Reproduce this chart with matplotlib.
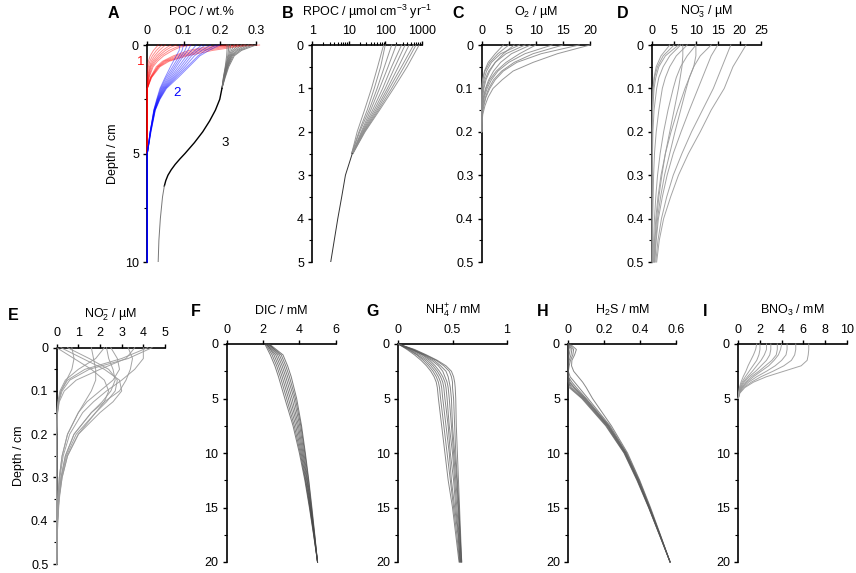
import matplotlib
matplotlib.use('Agg')
import matplotlib.pyplot as plt
from matplotlib.ticker import MultipleLocator, FuncFormatter, LogLocator, NullFormatter

plt.rcParams['font.family'] = ['Liberation Sans', 'DejaVu Sans']
plt.rcParams['mathtext.fontset'] = 'custom'
plt.rcParams['mathtext.rm'] = 'Liberation Sans'
plt.rcParams['mathtext.it'] = 'Liberation Sans:italic'
plt.rcParams['mathtext.default'] = 'regular'

# ---- A: POC (wt.%) ----
poc1_depth = [0, 0.1, 0.25, 0.5, 0.75, 1.0, 1.5, 2.0, 5.0]
poc1 = [
    [0.31, 0.24, 0.18, 0.11, 0.06, 0.035, 0.012, 0.0, 0.0],
    [0.29, 0.22, 0.16, 0.10, 0.055, 0.032, 0.011, 0.0, 0.0],
    [0.27, 0.20, 0.145, 0.09, 0.05, 0.03, 0.01, 0.0, 0.0],
    [0.25, 0.18, 0.13, 0.08, 0.046, 0.028, 0.009, 0.0, 0.0],
    [0.22, 0.16, 0.115, 0.072, 0.042, 0.025, 0.008, 0.0, 0.0],
    [0.12, 0.09, 0.07, 0.045, 0.028, 0.016, 0.005, 0.0, 0.0],
    [0.10, 0.08, 0.06, 0.038, 0.023, 0.013, 0.004, 0.0, 0.0],
    [0.08, 0.065, 0.05, 0.032, 0.019, 0.01, 0.003, 0.0, 0.0],
    [0.065, 0.055, 0.042, 0.026, 0.015, 0.008, 0.002, 0.0, 0.0],
    [0.05, 0.043, 0.033, 0.02, 0.011, 0.006, 0.001, 0.0, 0.0],
    [0.04, 0.034, 0.025, 0.014, 0.007, 0.003, 0.0, 0.0, 0.0],
    [0.03, 0.025, 0.017, 0.008, 0.003, 0.001, 0.0, 0.0, 0.0],
]
poc2_depth = [0, 0.25, 0.5, 1.0, 1.5, 2.0, 2.5, 3.0, 4.0, 5.0, 10.0]
poc2 = [
    [0.20, 0.17, 0.145, 0.115, 0.085, 0.053, 0.035, 0.022, 0.01, 0.0, 0.0],
    [0.19, 0.16, 0.14, 0.11, 0.08, 0.051, 0.034, 0.022, 0.01, 0.0, 0.0],
    [0.175, 0.15, 0.13, 0.104, 0.076, 0.049, 0.033, 0.021, 0.009, 0.0, 0.0],
    [0.16, 0.14, 0.122, 0.098, 0.072, 0.047, 0.032, 0.021, 0.009, 0.0, 0.0],
    [0.15, 0.132, 0.115, 0.092, 0.068, 0.045, 0.031, 0.02, 0.009, 0.0, 0.0],
    [0.135, 0.122, 0.108, 0.086, 0.064, 0.043, 0.03, 0.02, 0.008, 0.0, 0.0],
    [0.12, 0.112, 0.10, 0.08, 0.06, 0.041, 0.029, 0.019, 0.008, 0.0, 0.0],
    [0.11, 0.104, 0.094, 0.075, 0.056, 0.039, 0.028, 0.019, 0.008, 0.0, 0.0],
    [0.10, 0.096, 0.088, 0.07, 0.052, 0.037, 0.027, 0.018, 0.008, 0.0, 0.0],
    [0.09, 0.088, 0.08, 0.064, 0.049, 0.035, 0.026, 0.018, 0.008, 0.0, 0.0],
]
poc3_depth = [0, 0.25, 0.5, 1.0, 1.5, 2.0]
poc3 = [
    [0.30, 0.26, 0.24, 0.225, 0.215, 0.206],
    [0.29, 0.255, 0.237, 0.223, 0.214, 0.206],
    [0.28, 0.25, 0.234, 0.222, 0.213, 0.206],
    [0.27, 0.245, 0.232, 0.221, 0.213, 0.206],
    [0.26, 0.24, 0.23, 0.22, 0.212, 0.206],
    [0.25, 0.236, 0.228, 0.219, 0.212, 0.206],
    [0.24, 0.232, 0.226, 0.218, 0.211, 0.206],
    [0.23, 0.228, 0.224, 0.217, 0.211, 0.206],
    [0.225, 0.224, 0.222, 0.216, 0.21, 0.206],
    [0.22, 0.22, 0.219, 0.215, 0.21, 0.206],
]
poc3_mid_depth = [2.0, 2.5, 3.0, 3.5, 4.0, 4.5, 5.0, 5.25, 5.5, 5.75, 6.0, 6.25, 6.5]
poc3_mid = [0.206, 0.2, 0.188, 0.172, 0.153, 0.13, 0.104, 0.09, 0.077, 0.066, 0.057, 0.051, 0.047]
poc3_tail_depth = [6.5, 7.0, 8.0, 9.0, 10.0]
poc3_tail = [0.047, 0.042, 0.036, 0.032, 0.03]

# ---- B: RPOC (umol cm-3 yr-1), log scale ----
rpoc_depth = [0, 0.5, 1.0, 1.5, 2.0, 2.5]
rpoc = [
    [90, 62, 42, 27, 17, 12],
    [100, 75, 50, 32, 19, 12],
    [150, 95, 60, 36, 20, 12],
    [200, 120, 70, 40, 22, 12.5],
    [280, 150, 85, 45, 23, 12.5],
    [350, 185, 100, 50, 24, 12.5],
    [450, 230, 115, 55, 25, 12.5],
    [600, 280, 130, 60, 26, 13],
    [700, 330, 150, 65, 27, 13],
    [850, 400, 170, 70, 28, 13],
]
rpoc_tail_depth = [2.5, 3.0, 3.5, 4.0, 4.5, 5.0]
rpoc_tail = [12.5, 8.1, 6.4, 5.0, 4.0, 3.2]

# ---- C: O2 (uM) ----
o2_depth = [0, 0.02, 0.04, 0.06, 0.08, 0.1, 0.12, 0.14, 0.16, 0.18, 0.2]
o2 = [
    [20, 14, 9.5, 5.8, 3.8, 2.1, 1.2, 0.6, 0.2, 0.05, 0],
    [18, 11, 6.5, 4.0, 2.5, 1.5, 0.8, 0.4, 0.1, 0, 0],
    [15, 9.5, 6.0, 3.7, 2.2, 1.3, 0.7, 0.3, 0.05, 0, 0],
    [13, 8.0, 5.0, 3.0, 1.8, 1.0, 0.5, 0.2, 0, 0, 0],
    [10, 7.0, 4.5, 2.7, 1.5, 0.8, 0.4, 0.1, 0, 0, 0],
    [9, 5.5, 3.5, 2.2, 1.3, 0.7, 0.3, 0.1, 0, 0, 0],
    [8, 4.5, 2.5, 1.3, 0.6, 0.3, 0.1, 0, 0, 0, 0],
    [7, 3.5, 1.8, 0.9, 0.4, 0.15, 0.05, 0, 0, 0, 0],
    [6, 4.0, 2.5, 1.5, 0.8, 0.4, 0.2, 0.05, 0, 0, 0],
    [5, 3.0, 1.5, 0.6, 0.2, 0.05, 0, 0, 0, 0, 0],
    [4, 2.5, 1.2, 0.5, 0.15, 0, 0, 0, 0, 0, 0],
]

# ---- D: NO3- (uM) ----
no3_depth = [0, 0.025, 0.05, 0.075, 0.1, 0.15, 0.2, 0.25, 0.3, 0.35, 0.4, 0.45, 0.5]
no3 = [
    [21.5, 20, 18.5, 17.5, 16.5, 13.5, 11, 8.3, 6.0, 4.2, 2.6, 1.6, 1.0],
    [18, 17, 16, 15, 14, 11.5, 9.0, 6.8, 4.8, 3.3, 2.1, 1.3, 0.8],
    [15, 13.5, 12.5, 11.5, 10.5, 8.5, 6.6, 4.8, 3.4, 2.3, 1.4, 0.9, 0.6],
    [13.5, 11, 9.5, 8.5, 7.8, 6.5, 5.2, 4.0, 2.8, 1.9, 1.2, 0.8, 0.5],
    [10, 10, 9.5, 8.5, 7.5, 5.8, 4.3, 3.0, 2.0, 1.3, 0.8, 0.5, 0.3],
    [10, 8, 6.5, 5.5, 4.8, 3.6, 2.6, 1.8, 1.2, 0.8, 0.5, 0.3, 0.2],
    [8, 5.5, 4, 3, 2.3, 1.5, 0.9, 0.5, 0.3, 0.2, 0.1, 0.05, 0],
    [7, 7, 6.8, 6.4, 6.0, 5.0, 4.0, 3.0, 2.2, 1.5, 1.0, 0.6, 0.4],
    [6.5, 4, 2.5, 1.5, 1.0, 0.4, 0.15, 0.05, 0, 0, 0, 0, 0],
    [6, 3, 1.5, 0.8, 0.4, 0.1, 0, 0, 0, 0, 0, 0, 0],
    [5, 2.5, 1.2, 0.5, 0.2, 0.05, 0, 0, 0, 0, 0, 0, 0],
    [4, 2, 0.9, 0.4, 0.15, 0, 0, 0, 0, 0, 0, 0, 0],
]

# ---- E: NO2- (uM) ----
no2_depth = [0, 0.025, 0.05, 0.075, 0.1, 0.125, 0.15, 0.2, 0.25, 0.3, 0.35, 0.4, 0.45, 0.5]
no2 = [
    [0.2, 1.2, 2.2, 2.9, 3.0, 2.6, 2.0, 1.0, 0.5, 0.25, 0.12, 0.05, 0.02, 0],
    [0.5, 1.5, 2.4, 2.8, 2.7, 2.3, 1.8, 0.9, 0.45, 0.22, 0.1, 0.05, 0.02, 0],
    [2.3, 2.4, 2.6, 2.7, 2.5, 2.1, 1.6, 0.8, 0.4, 0.2, 0.1, 0.04, 0.01, 0],
    [2.5, 2.8, 2.9, 2.6, 2.0, 1.4, 1.0, 0.5, 0.25, 0.12, 0.05, 0.02, 0, 0],
    [4.4, 3.3, 1.5, 0.6, 0.25, 0.1, 0.04, 0, 0, 0, 0, 0, 0, 0],
    [4.2, 3.0, 1.3, 0.5, 0.2, 0.08, 0.03, 0, 0, 0, 0, 0, 0, 0],
    [4.0, 4.0, 3.6, 3.0, 2.3, 1.7, 1.2, 0.6, 0.3, 0.15, 0.07, 0.03, 0.01, 0],
    [3.6, 3.2, 2.0, 0.9, 0.35, 0.12, 0.04, 0, 0, 0, 0, 0, 0, 0],
    [0.7, 0.8, 0.7, 0.45, 0.2, 0.08, 0.03, 0, 0, 0, 0, 0, 0, 0],
    [1.6, 1.7, 1.8, 1.8, 1.6, 1.3, 1.0, 0.5, 0.25, 0.12, 0.05, 0.02, 0, 0],
    [0.0, 0.8, 1.6, 2.2, 2.4, 2.2, 1.8, 1.0, 0.5, 0.25, 0.1, 0.04, 0.01, 0],
    [3.3, 3.5, 3.4, 3.2, 2.9, 2.2, 1.6, 0.8, 0.4, 0.2, 0.09, 0.04, 0.01, 0],
    [2.2, 1.8, 1.0, 0.4, 0.15, 0.05, 0, 0, 0, 0, 0, 0, 0, 0],
]

# ---- F: DIC (mM) ----
dic_depth = [0, 1, 2, 3, 5, 7.5, 10, 12.5, 15, 17.5, 20]
dic = [
    [2.10, 2.40, 2.65, 2.85, 3.20, 3.65, 4.00, 4.30, 4.55, 4.78, 5.0],
    [2.15, 2.50, 2.75, 2.95, 3.30, 3.72, 4.05, 4.33, 4.57, 4.79, 5.0],
    [2.20, 2.60, 2.85, 3.05, 3.40, 3.80, 4.10, 4.36, 4.59, 4.80, 5.0],
    [2.20, 2.70, 2.95, 3.15, 3.50, 3.88, 4.15, 4.40, 4.61, 4.81, 5.0],
    [2.25, 2.80, 3.05, 3.25, 3.60, 3.95, 4.20, 4.43, 4.63, 4.82, 5.0],
    [2.30, 2.90, 3.15, 3.35, 3.70, 4.02, 4.25, 4.46, 4.65, 4.83, 5.0],
    [2.30, 3.00, 3.25, 3.45, 3.78, 4.08, 4.30, 4.50, 4.67, 4.84, 5.0],
    [2.35, 3.10, 3.35, 3.55, 3.85, 4.12, 4.33, 4.52, 4.69, 4.85, 5.0],
]

# ---- G: NH4+ (mM) ----
nh4_depth = [0, 0.5, 1, 1.5, 2, 2.5, 3, 3.5, 4, 5, 7.5, 10, 12.5, 15, 17.5, 20]
nh4 = [
    [0, 0.08, 0.15, 0.21, 0.26, 0.30, 0.33, 0.35, 0.36, 0.37, 0.40, 0.43, 0.46, 0.50, 0.53, 0.56],
    [0, 0.09, 0.17, 0.23, 0.28, 0.32, 0.35, 0.37, 0.38, 0.39, 0.42, 0.45, 0.48, 0.51, 0.54, 0.565],
    [0, 0.10, 0.18, 0.25, 0.30, 0.34, 0.37, 0.39, 0.40, 0.41, 0.44, 0.47, 0.49, 0.52, 0.55, 0.57],
    [0, 0.11, 0.20, 0.27, 0.32, 0.36, 0.39, 0.41, 0.42, 0.43, 0.46, 0.48, 0.51, 0.53, 0.555, 0.57],
    [0, 0.12, 0.22, 0.29, 0.34, 0.38, 0.41, 0.43, 0.44, 0.45, 0.47, 0.50, 0.52, 0.54, 0.56, 0.575],
    [0, 0.13, 0.23, 0.31, 0.37, 0.41, 0.43, 0.45, 0.46, 0.47, 0.49, 0.51, 0.53, 0.55, 0.565, 0.58],
    [0, 0.13, 0.24, 0.33, 0.39, 0.44, 0.46, 0.47, 0.48, 0.49, 0.50, 0.52, 0.54, 0.555, 0.57, 0.58],
    [0, 0.14, 0.25, 0.35, 0.42, 0.47, 0.49, 0.50, 0.50, 0.51, 0.52, 0.53, 0.545, 0.56, 0.57, 0.585],
    [0, 0.15, 0.26, 0.36, 0.44, 0.49, 0.51, 0.52, 0.525, 0.53, 0.535, 0.545, 0.555, 0.565, 0.575, 0.585],
]

# ---- H: H2S (mM) ----
h2s_depth = [0, 0.5, 1, 1.5, 2, 2.5, 3, 3.5, 4, 5, 7.5, 10, 12.5, 15, 17.5, 20]
h2s = [
    [0.01, 0.045, 0.035, 0.02, 0.018, 0.03, 0.055, 0.08, 0.10, 0.135, 0.24, 0.33, 0.398, 0.458, 0.513, 0.567],
    [0.005, 0.03, 0.025, 0.012, 0.005, 0.0, 0.01, 0.035, 0.06, 0.11, 0.232, 0.325, 0.395, 0.455, 0.512, 0.567],
    [0, 0.02, 0.015, 0.005, 0, 0, 0, 0.02, 0.045, 0.1, 0.227, 0.322, 0.392, 0.453, 0.511, 0.567],
    [0, 0.01, 0.005, 0, 0, 0, 0, 0.01, 0.035, 0.095, 0.223, 0.32, 0.39, 0.451, 0.51, 0.567],
    [0, 0, 0, 0, 0, 0, 0, 0.005, 0.03, 0.09, 0.22, 0.317, 0.388, 0.45, 0.509, 0.567],
    [0, 0, 0, 0, 0, 0, 0, 0, 0.02, 0.085, 0.216, 0.315, 0.386, 0.449, 0.508, 0.567],
    [0, 0, 0, 0, 0, 0, 0, 0, 0.012, 0.08, 0.212, 0.312, 0.384, 0.448, 0.508, 0.567],
    [0, 0, 0, 0, 0, 0, 0, 0, 0.005, 0.075, 0.208, 0.31, 0.382, 0.447, 0.507, 0.567],
]

# ---- I: BNO3 (mM) ----
bno3_depth = [0, 0.5, 1, 1.5, 2, 2.5, 3, 3.5, 4, 4.5, 5]
bno3 = [
    [6.5, 6.5, 6.45, 6.35, 5.8, 4.2, 2.6, 1.4, 0.6, 0.15, 0],
    [5.3, 5.3, 5.2, 4.9, 4.2, 3.2, 2.1, 1.2, 0.5, 0.12, 0],
    [4.5, 4.5, 4.4, 4.0, 3.4, 2.6, 1.7, 0.95, 0.4, 0.1, 0],
    [4.0, 3.9, 3.7, 3.3, 2.8, 2.1, 1.4, 0.8, 0.35, 0.08, 0],
    [3.6, 3.6, 3.5, 3.1, 2.5, 1.9, 1.2, 0.7, 0.3, 0.07, 0],
    [3.0, 3.0, 2.9, 2.6, 2.1, 1.6, 1.0, 0.55, 0.25, 0.05, 0],
    [2.6, 2.6, 2.4, 2.1, 1.7, 1.3, 0.85, 0.45, 0.2, 0.04, 0],
    [2.0, 2.0, 1.9, 1.7, 1.35, 1.0, 0.65, 0.35, 0.15, 0.03, 0],
    [1.7, 1.6, 1.4, 1.15, 0.9, 0.7, 0.45, 0.25, 0.1, 0.02, 0],
]

W, H = 856, 573
FS = 9
LW = 0.7


def add_axes(fig, x0, x1, y0, y1):
    # pixel box -> figure fraction
    return fig.add_axes([x0 / W, 1 - y1 / H, (x1 - x0) / W, (y1 - y0) / H])


def style(ax, xmax, ymax, xmajor, ymajor, yminor, xlabel, letter, letter_dx, depth_label=False, log=False):
    ax.set_ylim(ymax, 0)
    ax.xaxis.tick_top()
    ax.spines['right'].set_visible(False)
    ax.spines['bottom'].set_visible(False)
    for s in ['top', 'left']:
        ax.spines[s].set_linewidth(1.2)
    if log:
        ax.set_xscale('log')
        ax.set_xlim(1, xmax)
        ax.set_xticks([1, 10, 100, 1000])
        ax.set_xticklabels(['1', '10', '100', '1000'])
        ax.xaxis.set_minor_locator(LogLocator(base=10, subs=range(2, 10)))
        ax.xaxis.set_minor_formatter(NullFormatter())
    else:
        ax.set_xlim(0, xmax)
        ax.xaxis.set_major_locator(MultipleLocator(xmajor))
    ax.yaxis.set_major_locator(MultipleLocator(ymajor))
    ax.yaxis.set_minor_locator(MultipleLocator(yminor))
    fmt = FuncFormatter(lambda v, p: '%g' % v)
    if not log:
        ax.xaxis.set_major_formatter(fmt)
    ax.yaxis.set_major_formatter(fmt)
    ax.tick_params(which='major', direction='out', length=3, width=1, labelsize=FS, pad=3)
    ax.tick_params(which='minor', direction='out', length=2, width=0.8)
    ax.tick_params(axis='x', which='both', top=True, bottom=False)
    ax.text(0.5, 1 + 33 / 217, xlabel, transform=ax.transAxes, ha='center', va='center', fontsize=FS)
    ax.text(letter_dx / 109, 1 + 32 / 217, letter, transform=ax.transAxes, ha='center', va='center',
            fontsize=11.5, fontweight='bold')
    if depth_label:
        ax.set_ylabel('Depth / cm', fontsize=FS, labelpad=4)


def draw(ax, depth, series, color, alpha=1.0, lw=LW):
    for vals in series:
        ax.plot(vals, depth, color=color, lw=lw, alpha=alpha, clip_on=False, zorder=3)


fig = plt.figure(figsize=(W / 100, H / 100), dpi=100)

# top row
axA = add_axes(fig, 147.3, 256, 45, 262)
draw(axA, poc1_depth, poc1, 'red', 0.45)
draw(axA, poc2_depth, poc2, 'blue', 0.45)
draw(axA, poc3_depth, poc3, '#707070', 0.8)
axA.plot(poc3_mid, poc3_mid_depth, color='black', lw=1.0, zorder=3)
axA.plot(poc3_tail, poc3_tail_depth, color='#777777', lw=LW, zorder=3)
axA.text(-0.017, 0.78, '1', color='red', fontsize=9.5, ha='center', va='center')
axA.text(0.083, 2.2, '2', color='blue', fontsize=9.5, ha='center', va='center')
axA.text(0.214, 4.5, '3', color='black', fontsize=9.5, ha='center', va='center')
style(axA, 0.3, 10, 0.1, 5, 2.5, 'POC / wt.%', 'A', -34, depth_label=True)

axB = add_axes(fig, 312.3, 421.7, 45, 262)
draw(axB, rpoc_depth, rpoc, '#8c8c8c', 0.9)
axB.plot(rpoc_tail, rpoc_tail_depth, color='#333333', lw=LW, zorder=3)
style(axB, 1000, 5, None, 1, 0.5, r'RPOC / µmol cm$^{-3}$ yr$^{-1}$', 'B', -25, log=True)

axC = add_axes(fig, 481.7, 590, 45, 262)
draw(axC, o2_depth, o2, '#8c8c8c', 0.9)
style(axC, 20, 0.5, 5, 0.1, 0.05, r'O$_2$ / µM', 'C', -24)

axD = add_axes(fig, 652.3, 761.3, 45, 262)
draw(axD, no3_depth, no3, '#9a9a9a', 0.9)
style(axD, 25, 0.5, 5, 0.1, 0.05, r'NO$_3^{-}$ / µM', 'D', -30)

# bottom row
axE = add_axes(fig, 56.7, 165, 347.7, 564)
draw(axE, no2_depth, no2, '#9a9a9a', 0.9)
style(axE, 5, 0.5, 1, 0.1, 0.05, r'NO$_2^{-}$ / µM', 'E', -44, depth_label=True)

axF = add_axes(fig, 226.7, 335.7, 344, 562)
draw(axF, dic_depth, dic, '#444444', 0.7)
style(axF, 6, 20, 2, 5, 2.5, 'DIC / mM', 'F', -31)

axG = add_axes(fig, 398.3, 506.7, 344, 562)
draw(axG, nh4_depth, nh4, '#555555', 0.7)
style(axG, 1, 20, 0.5, 5, 2.5, r'NH$_4^{+}$ / mM', 'G', -26)

axH = add_axes(fig, 568.3, 676, 344, 562)
draw(axH, h2s_depth, h2s, '#555555', 0.7)
style(axH, 0.6, 20, 0.2, 5, 2.5, r'H$_2$S / mM', 'H', -26)

axI = add_axes(fig, 738.3, 846.7, 344, 562)
draw(axI, bno3_depth, bno3, '#9a9a9a', 0.9)
style(axI, 10, 20, 2, 5, 2.5, r'BNO$_3$ / mM', 'I', -33)

fig.savefig('out.png', dpi=100)
